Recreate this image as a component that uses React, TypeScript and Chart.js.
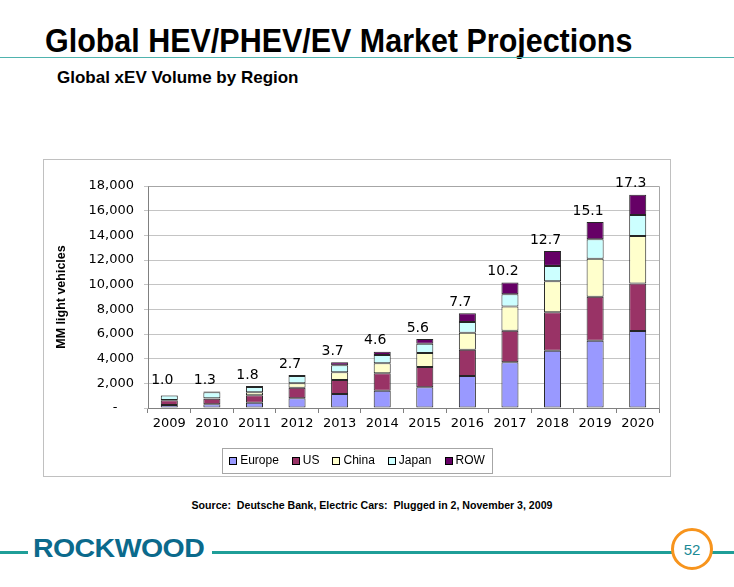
import React, { useEffect, useRef } from 'react';
import { Chart, registerables } from 'chart.js';

Chart.register(...registerables);

// ---- data ----
const years = ['2009', '2010', '2011', '2012', '2013', '2014', '2015', '2016', '2017', '2018', '2019', '2020'];
const europe = [240, 300, 430, 790, 1140, 1400, 1680, 2600, 3710, 4650, 5460, 6250];
const us = [380, 450, 600, 860, 1130, 1410, 1650, 2130, 2560, 3110, 3570, 3850];
const china = [30, 40, 240, 350, 630, 810, 1130, 1380, 1950, 2510, 3080, 3850];
const japan = [360, 480, 430, 600, 560, 680, 750, 860, 1000, 1250, 1570, 1700];
const rowRegion = [20, 60, 80, 80, 250, 270, 390, 710, 950, 1210, 1400, 1650];
const seriesNames = ['Europe', 'US', 'China', 'Japan', 'ROW'];
const seriesColors = ['#9999FF', '#993366', '#FFFFCC', '#CCFFFF', '#660066'];
const yMax = 18000;
const yStep = 2000;

const titleText = 'Global HEV/PHEV/EV Market Projections';
const subtitleText = 'Global xEV Volume by Region';
const yAxisTitle = 'MM light vehicles';
const sourceText = 'Source:  Deutsche Bank, Electric Cars:  Plugged in 2, November 3, 2009';
const pageNumber = '52';
const logoText = 'ROCKWOOD';

const ARIAL = '"Liberation Sans", Arial, sans-serif';
const VERDANA = '"DejaVu Sans", Verdana, sans-serif';

const frameAndBorders = {
  id: 'frameAndBorders',
  beforeDraw(chart: any) {
    const { ctx, width, height } = chart;
    ctx.save();
    ctx.fillStyle = '#ffffff';
    ctx.fillRect(0, 0, width, height);
    ctx.strokeStyle = '#c0c0c0';
    ctx.lineWidth = 1;
    ctx.strokeRect(0.5, 0.5, width - 1, height - 1);
    ctx.restore();
  },
  beforeDatasetsDraw(chart: any) {
    const { ctx, chartArea } = chart;
    ctx.save();
    ctx.strokeStyle = '#a6a6a6';
    ctx.lineWidth = 1;
    ctx.beginPath();
    ctx.moveTo(Math.round(chartArea.left) + 0.5, Math.round(chartArea.top) + 0.5);
    ctx.lineTo(Math.round(chartArea.right) + 0.5, Math.round(chartArea.top) + 0.5);
    ctx.lineTo(Math.round(chartArea.right) + 0.5, Math.round(chartArea.bottom) + 0.5);
    ctx.stroke();
    ctx.restore();
  },
};

const totalLabels = {
  id: 'totalLabels',
  afterDatasetsDraw(chart: any) {
    const { ctx, scales } = chart;
    const x = scales.x;
    const y = scales.y;
    ctx.save();
    ctx.font = `14px ${VERDANA}`;
    ctx.fillStyle = '#000000';
    ctx.textAlign = 'center';
    ctx.textBaseline = 'middle';
    chart.data.labels.forEach((_: any, i: number) => {
      const total = chart.data.datasets.reduce((s: number, ds: any) => s + ds.data[i], 0);
      const py = Math.min(y.getPixelForValue(total) - 11, y.getPixelForValue(0) - 28);
      ctx.fillText((total / 1000).toFixed(1), x.getPixelForValue(i) - 7, py);
    });
    ctx.restore();
  },
};

const boxedLegend = {
  id: 'boxedLegend',
  afterDraw(chart: any) {
    const { ctx, chartArea } = chart;
    ctx.save();
    ctx.font = `12px ${ARIAL}`;
    const sw = 7;
    const textGap = 4;
    const itemGap = 13;
    const items = chart.data.datasets.map((ds: any) => ({
      label: ds.label,
      color: ds.backgroundColor,
      w: sw + textGap + ctx.measureText(ds.label).width,
    }));
    const total = items.reduce((s: number, it: any) => s + it.w, 0) + itemGap * (items.length - 1);
    const cx = chart.width / 2;
    const cy = chartArea.bottom + 52.5;
    const bx = Math.round(cx - total / 2 - 7) + 0.5;
    const bw = Math.round(total + 14);
    ctx.strokeStyle = '#a6a6a6';
    ctx.lineWidth = 1;
    ctx.strokeRect(bx, Math.round(cy - 12.5) + 0.5, bw, 25);
    let xx = cx - total / 2;
    ctx.textBaseline = 'middle';
    ctx.textAlign = 'left';
    items.forEach((it: any) => {
      const sx = Math.round(xx) + 0.5;
      const sy = Math.round(cy - sw / 2) + 0.5;
      ctx.fillStyle = it.color;
      ctx.fillRect(sx, sy, sw, sw);
      ctx.strokeStyle = '#000000';
      ctx.strokeRect(sx, sy, sw, sw);
      ctx.fillStyle = '#000000';
      ctx.fillText(it.label, xx + sw + textGap, cy + 0.5);
      xx += it.w + itemGap;
    });
    ctx.restore();
  },
};

export default function App() {
  const ref = useRef<HTMLCanvasElement>(null);

  useEffect(() => {
    const canvas = ref.current;
    if (!canvas) return;
    const seriesData = [europe, us, china, japan, rowRegion];
    const chart = new Chart(canvas, {
      type: 'bar',
      data: {
        labels: years,
        datasets: seriesData.map((d, k) => ({
          label: seriesNames[k],
          data: d,
          backgroundColor: seriesColors[k],
          borderColor: '#262626',
          borderWidth: 1,
          borderSkipped: false,
          barPercentage: 0.4,
          categoryPercentage: 1,
        })),
      },
      options: {
        responsive: false,
        animation: false,
        events: [],
        layout: { padding: { top: 27, right: 12, bottom: 39, left: 0 } },
        plugins: {
          legend: { display: false },
          tooltip: { enabled: false },
          title: { display: false },
        },
        scales: {
          x: {
            stacked: true,
            grid: { drawOnChartArea: false, drawTicks: true, tickLength: 5, color: '#808080', offset: true },
            border: { color: '#808080' },
            ticks: { font: { family: VERDANA, size: 13 }, color: '#000000', padding: 3, maxRotation: 0, autoSkip: false },
            afterFit: (s: any) => { s.height = 30; },
          },
          y: {
            stacked: true,
            min: 0,
            max: yMax,
            grid: { color: '#c4c4c4', tickLength: 4 },
            border: { color: '#808080' },
            ticks: {
              stepSize: yStep,
              padding: 10,
              color: '#000000',
              font: { family: VERDANA, size: 13 },
              callback: (v: any) => (Number(v) === 0 ? '-    ' : Number(v).toLocaleString('en-US')),
            },
            title: {
              display: true,
              text: yAxisTitle,
              color: '#000000',
              font: { family: ARIAL, size: 12.5, weight: 'bold' },
              padding: { top: 11, bottom: 0 },
            },
            afterFit: (s: any) => { s.width = 105; },
          },
        },
      },
      plugins: [frameAndBorders, totalLabels, boxedLegend],
    } as any);
    return () => chart.destroy();
  }, []);

  return (
    <div style={{ position: 'absolute', left: 0, top: 0, width: 734, height: 587, background: '#ffffff', overflow: 'hidden', fontFamily: ARIAL }}>
      <div style={{ position: 'absolute', left: 45, top: 24, fontSize: 33, lineHeight: '33px', fontWeight: 'bold', color: '#000', whiteSpace: 'nowrap', transform: 'scaleX(0.923)', transformOrigin: 'left top' }}>
        {titleText}
      </div>
      <div style={{ position: 'absolute', left: 0, top: 57, width: 734, height: 1, background: '#4fb3ae' }} />
      <div style={{ position: 'absolute', left: 57, top: 68.6, fontSize: 17, lineHeight: '17px', fontWeight: 'bold', color: '#000', whiteSpace: 'nowrap' }}>
        {subtitleText}
      </div>

      <div style={{ position: 'absolute', left: 43, top: 159, width: 628, height: 318 }}>
        <canvas ref={ref} width={628} height={318} style={{ display: 'block' }} />
      </div>

      <div style={{ position: 'absolute', left: 0, width: 734, top: 498, textAlign: 'center', fontSize: 10.6, lineHeight: '14px', fontWeight: 'bold', color: '#000', whiteSpace: 'pre' }}>
        <span style={{ position: 'relative', left: 5 }}>{sourceText}</span>
      </div>

      <div style={{ position: 'absolute', left: 0, top: 551, width: 28, height: 3, background: '#1f9e98' }} />
      <div style={{ position: 'absolute', left: 212, top: 551, width: 522, height: 3, background: '#1f9e98' }} />
      <div style={{ position: 'absolute', left: 33, top: 535, fontSize: 25, lineHeight: '26px', fontWeight: 900, color: '#0b6a8c', whiteSpace: 'nowrap', transform: 'scaleX(1.14)', transformOrigin: 'left top', letterSpacing: '-0.5px' }}>
        {logoText}
      </div>
      <div style={{ position: 'absolute', left: 671, top: 528, width: 36, height: 36, borderRadius: '50%', border: '3px solid #f7941d', background: '#ffffff', display: 'flex', alignItems: 'center', justifyContent: 'center', fontSize: 15, color: '#1a8a96' }}>
        {pageNumber}
      </div>
    </div>
  );
}
